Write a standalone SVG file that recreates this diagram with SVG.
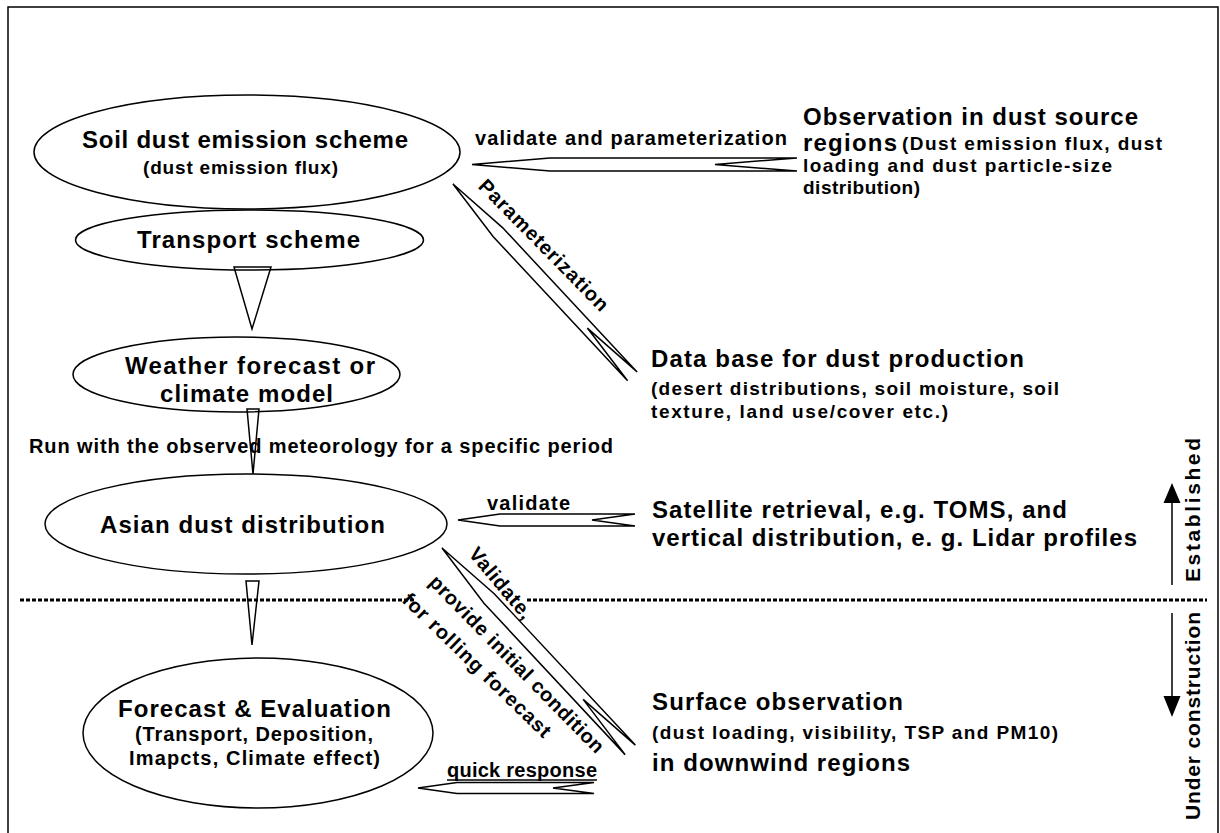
<svg xmlns="http://www.w3.org/2000/svg" width="1220" height="833" viewBox="0 0 1220 833">
<style>
.n{fill:#fff;stroke:#000;stroke-width:1.5}
.t{font-family:"Liberation Sans",Arial,sans-serif;font-weight:bold;fill:#000}
.big{font-size:24px}
.sm{font-size:19px}
.lbl{font-size:20px}
.m{text-anchor:middle}
.arr{fill:#fff;stroke:#000;stroke-width:1.5;stroke-linejoin:miter}
.tri{fill:none;stroke:#000;stroke-width:1.5}
</style>
<rect x="8" y="7" width="1210" height="840" fill="#fff" stroke="#000" stroke-width="1.5"/>

<g id="separator">
<line x1="20" y1="600" x2="415" y2="600" stroke="#000" stroke-width="3" stroke-dasharray="4 2"/>
<line x1="527" y1="600" x2="1207" y2="600" stroke="#000" stroke-width="3" stroke-dasharray="4 2"/>
</g>

<g id="node-soil">
<ellipse class="n" cx="247" cy="152" rx="213" ry="57"/>
<text class="t big m" x="245" y="148" textLength="326">Soil dust emission scheme</text>
<text class="t sm m" x="240.5" y="174" textLength="195">(dust emission flux)</text>
</g>
<g id="node-transport">
<ellipse class="n" cx="249.5" cy="240" rx="174" ry="30"/>
<text class="t big m" x="248.5" y="248" textLength="223">Transport scheme</text>
</g>
<g id="node-weather">
<ellipse class="n" cx="236.5" cy="374.5" rx="163.5" ry="37.5"/>
<text class="t big m" x="250" y="374" textLength="250">Weather forecast or</text>
<text class="t big m" x="246.5" y="402" textLength="173">climate model</text>
</g>
<g id="node-asian">
<ellipse class="n" cx="246" cy="524" rx="201" ry="50"/>
<text class="t big m" x="242.5" y="533" textLength="285">Asian dust distribution</text>
</g>
<g id="node-forecast">
<ellipse class="n" cx="258" cy="733" rx="175" ry="75"/>
<text class="t big m" x="254.5" y="717" textLength="273">Forecast &amp; Evaluation</text>
<text class="t lbl m" x="254" y="741" textLength="238">(Transport, Deposition,</text>
<text class="t lbl m" x="254.5" y="765" textLength="251">Imapcts, Climate effect)</text>
</g>
<g id="node-observation">
<text class="t big" x="803" y="125" textLength="335">Observation in dust source</text>
<text class="t big" x="803" y="151" textLength="94">regions</text>
<text class="t sm" x="902" y="150" textLength="260">(Dust emission flux, dust</text>
<text class="t sm" x="803" y="172" textLength="309">loading and dust particle-size</text>
<text class="t sm" x="803" y="194" textLength="117">distribution)</text>
</g>
<g id="node-database">
<text class="t big" x="651" y="367" textLength="373">Data base for dust production</text>
<text class="t sm" x="651" y="395" textLength="408">(desert distributions, soil moisture, soil</text>
<text class="t sm" x="651" y="418" textLength="297">texture, land use/cover etc.)</text>
</g>
<g id="node-satellite">
<text class="t big" x="652" y="518" textLength="415">Satellite retrieval, e.g. TOMS, and</text>
<text class="t big" x="652" y="546" textLength="485">vertical distribution, e. g. Lidar profiles</text>
</g>
<g id="node-surface">
<text class="t big" x="652" y="710" textLength="251">Surface observation</text>
<text class="t sm" x="652" y="739" textLength="406">(dust loading, visibility, TSP and PM10)</text>
<text class="t big" x="652" y="771" textLength="258">in downwind regions</text>
</g>

<g id="connectors">
<polygon class="tri" points="234,267 271,267 252,329"/>
<polygon class="tri" points="247,409 259,409 253,474"/>
<polygon class="tri" points="246,581 259,581 252,645"/>
<text class="t lbl" x="29" y="453" textLength="584">Run with the observed meteorology for a specific period</text>

<polygon class="arr" points="472,164.5 550,158 797,158 715,164.5 797,171 550,171"/>
<text class="t lbl" x="475" y="145" textLength="312">validate and parameterization</text>

<polygon class="arr" transform="translate(453,184) rotate(47)" points="0,0 66,-6.5 263,-6.5 197,0 263,6.5 66,6.5"/>
<text class="t lbl m" transform="translate(544,245) rotate(45.5)" x="0" y="7" textLength="176">Parameterization</text>

<polygon class="arr" points="458,520 500,514 635,514 592,520 635,526 500,526"/>
<text class="t lbl" x="487" y="510" textLength="83">validate</text>

<polygon class="arr" transform="translate(442,548) rotate(47)" points="0,0 69,-7 276,-7 207,0 276,7 69,7"/>
<text class="t lbl m" transform="translate(501,583) rotate(50)" x="0" y="7" textLength="87">Validate,</text>
<text class="t lbl m" transform="translate(517,664) rotate(45.5)" x="0" y="7" textLength="240">provide initial condition</text>
<text class="t lbl m" transform="translate(477,665) rotate(44)" x="0" y="7" textLength="198">for rolling forecast</text>

<polygon class="arr" points="418,788 457,782.5 594,782.5 553,788 594,793.5 457,793.5"/>
<text class="t lbl" x="447" y="777" textLength="150">quick response</text>
<line x1="447" y1="780" x2="597" y2="780" stroke="#000" stroke-width="1.5"/>
</g>

<g id="legend">
<line x1="1172" y1="585" x2="1172" y2="500" stroke="#000" stroke-width="1.5"/>
<polygon points="1172,483 1163.5,503 1180.5,503" fill="#000"/>
<line x1="1172" y1="613" x2="1172" y2="698" stroke="#000" stroke-width="1.5"/>
<polygon points="1172,717 1163.5,696 1180.5,696" fill="#000"/>
<text class="t m" style="font-size:21px" transform="translate(1200,510) rotate(-90)" x="0" y="0" textLength="144">Established</text>
<text class="t m" style="font-size:21px" transform="translate(1200,716) rotate(-90)" x="0" y="0" textLength="208">Under construction</text>
</g>
</svg>
